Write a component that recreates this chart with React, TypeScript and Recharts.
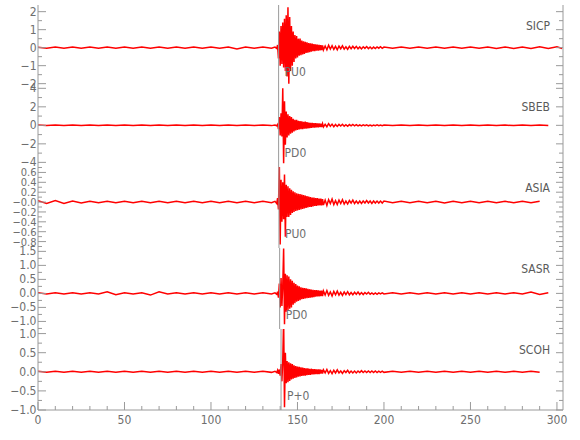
import { LineChart, Line, XAxis, YAxis, ReferenceLine } from "recharts";

// sample times (s): quiet part, P burst, coda, tail
const times = [
  0, 5, 10, 15, 20, 25, 30, 35, 40, 45, 50, 55, 60, 65, 70, 75, 80, 85, 90, 95, 100, 105, 110, 115, 120, 125, 130, 135, 137, 138,
  138.5, 139, 139.5, 140, 140.5, 141, 141.5, 142, 142.5, 143, 143.5, 144, 144.5, 145, 145.5, 146, 146.5, 147, 147.5, 148, 148.5, 149, 149.5, 150,
  150.5, 151, 151.5, 152, 152.5, 153, 153.5, 154, 154.5, 155, 155.5, 156, 156.5, 157, 157.5, 158, 158.5, 159, 159.5, 160, 160.5, 161, 161.5, 162, 162.5, 163, 163.5, 164, 164.5,
  165, 166, 167, 168, 169, 170, 171, 172, 173, 174, 175, 176, 177, 178, 179, 180, 181, 182, 183, 184, 185, 186, 187, 188, 189, 190, 191, 192, 193, 194, 195, 196, 197, 198, 199, 200,
  205, 210, 215, 220, 225, 230, 235, 240, 245, 250, 255, 260, 265, 270, 275, 280, 285, 290, 295, 300, 303,
];

const sicp = [
  0.03, -0.03, 0.03, -0.03, 0.03, -0.03, 0.03, -0.03, 0.03, -0.03, 0.03, -0.03, 0.03, -0.03, 0.03, -0.03, 0.03, -0.03, 0.03, -0.03, 0.03, -0.03, 0.03, -0.08, 0.03, -0.03, 0.03, -0.03, 0.03, -0.04,
  0.15, -0.6, 0.9, -1.0, 1.2, -0.9, 1.4, -1.1, 1.6, -1.3, 1.8, -1.6, 2.25, -2.0, 1.7, -1.3, 1.2, -1.0, 0.9, -0.8, 0.7, -0.6, 0.65, -0.55,
  0.5, -0.45, 0.5, -0.42, 0.4, -0.38, 0.36, -0.35, 0.32, -0.3, 0.3, -0.28, 0.26, -0.25, 0.24, -0.22, 0.22, -0.2, 0.2, -0.19, 0.18, -0.17, 0.17, -0.16, 0.15, -0.15, 0.14, -0.13, 0.13,
  -0.13, 0.09, -0.12, 0.14, -0.08, 0.11, -0.1, 0.07, -0.12, 0.09, -0.06, 0.1, -0.08, 0.05, -0.09, 0.07, -0.06, 0.08, -0.05, 0.07, -0.06, 0.04, -0.07, 0.05, -0.04, 0.06, -0.05, 0.04, -0.06, 0.03, -0.05, 0.04, -0.03, 0.05, -0.04, 0.03,
  -0.03, 0.03, -0.03, 0.03, -0.03, 0.03, -0.03, 0.03, -0.03, 0.03, -0.03, 0.04, -0.04, 0.04, -0.04, 0.04, -0.05, 0.05, -0.05, 0.05, -0.05,
];

const sbeb = [
  0.03, -0.03, 0.03, -0.03, 0.03, -0.03, 0.03, -0.03, 0.03, -0.03, 0.03, -0.03, 0.03, -0.03, 0.03, -0.03, 0.03, -0.03, 0.03, -0.03, 0.03, -0.03, 0.03, -0.03, 0.03, -0.03, 0.03, -0.03, 0.03, -0.05,
  0.1, -0.4, 0.9, -1.1, 1.3, -1.2, 4.0, -4.1, 2.6, -2.1, 1.5, -1.3, 1.2, -1.1, 1.0, -0.9, 0.9, -0.8, 0.7, -0.65, 0.6, -0.55, 0.6, -0.5,
  0.5, -0.45, 0.45, -0.4, 0.42, -0.4, 0.38, -0.36, 0.4, -0.35, 0.34, -0.32, 0.3, -0.3, 0.28, -0.27, 0.26, -0.25, 0.25, -0.24, 0.23, -0.22, 0.22, -0.21, 0.2, -0.2, 0.19, -0.18, 0.18,
  -0.17, 0.12, -0.15, 0.18, -0.1, 0.13, -0.14, 0.09, -0.12, 0.1, -0.07, 0.11, -0.09, 0.06, -0.1, 0.08, -0.06, 0.09, -0.05, 0.07, -0.06, 0.04, -0.07, 0.05, -0.04, 0.06, -0.05, 0.03, -0.05, 0.04, -0.03, 0.05, -0.04, 0.03, -0.04, 0.03,
  -0.03, 0.03, -0.03, 0.03, -0.03, 0.03, -0.03, 0.03, -0.03, 0.03, -0.03, 0.03, -0.03, 0.03, -0.03, 0.03, -0.03, 0.03, -0.03, null, null,
];

const asia = [
  0.03, -0.03, 0.03, -0.03, 0.02, -0.02, 0.015, -0.015, 0.015, -0.015, 0.015, -0.015, 0.015, -0.015, 0.015, -0.015, 0.015, -0.015, 0.015, -0.015, 0.015, -0.015, 0.015, -0.015, 0.015, -0.015, 0.015, -0.015, 0.015, -0.03,
  0.08, -0.15, 0.82, -0.86, 0.45, -0.4, 0.4, -0.35, 0.56, -0.7, 0.35, -0.3, 0.32, -0.3, 0.28, -0.26, 0.25, -0.22, 0.22, -0.2, 0.2, -0.18, 0.18, -0.17,
  0.17, -0.16, 0.16, -0.15, 0.15, -0.14, 0.14, -0.13, 0.13, -0.12, 0.12, -0.11, 0.11, -0.1, 0.1, -0.1, 0.09, -0.09, 0.09, -0.08, 0.08, -0.08, 0.08, -0.07, 0.07, -0.07, 0.07, -0.07, 0.06,
  -0.06, 0.04, -0.07, 0.05, -0.03, 0.06, -0.05, 0.03, -0.05, 0.04, -0.03, 0.05, -0.04, 0.02, -0.04, 0.03, -0.02, 0.04, -0.03, 0.02, -0.03, 0.02, -0.03, 0.02, -0.02, 0.03, -0.02, 0.02, -0.03, 0.02, -0.02, 0.02, -0.02, 0.02, -0.02, 0.02,
  -0.015, 0.015, -0.015, 0.015, -0.015, 0.015, -0.02, 0.015, -0.015, 0.015, -0.015, 0.015, -0.015, 0.015, -0.015, 0.015, -0.015, 0.015, null, null, null,
];

const sasr = [
  0.02, -0.02, 0.02, -0.02, 0.02, -0.02, 0.02, -0.02, 0.06, -0.05, 0.02, -0.02, 0.02, -0.06, 0.06, -0.02, 0.02, -0.02, 0.02, -0.02, 0.02, -0.02, 0.02, -0.02, 0.02, -0.02, 0.02, -0.02, 0.02, -0.03,
  0.06, -0.15, 0.35, -0.5, 0.55, -0.45, 0.3, 1.6, -1.1, 0.7, -0.65, 0.65, -0.6, 0.6, -0.55, 0.5, -0.5, 0.45, -0.4, 0.38, -0.35, 0.33, -0.3, 0.28,
  -0.27, 0.25, -0.24, 0.22, -0.21, 0.2, -0.2, 0.19, -0.18, 0.18, -0.17, 0.16, -0.16, 0.15, -0.15, 0.14, -0.14, 0.13, -0.13, 0.12, -0.12, 0.12, -0.11, 0.11, -0.11, 0.1, -0.1, 0.1, -0.1,
  0.09, -0.06, 0.1, -0.07, 0.05, -0.09, 0.07, -0.05, 0.08, -0.06, 0.04, -0.07, 0.05, -0.04, 0.06, -0.05, 0.03, -0.05, 0.04, -0.03, 0.05, -0.04, 0.03, -0.04, 0.03, -0.02, 0.04, -0.03, 0.02, -0.03, 0.02, -0.03, 0.02, -0.02, 0.02, -0.02,
  0.02, -0.02, 0.02, -0.02, 0.02, -0.02, 0.02, -0.02, 0.02, -0.02, 0.02, -0.02, 0.02, -0.02, 0.02, -0.02, 0.05, -0.04, 0.02, null, null,
];

const scoh = [
  0.015, -0.015, 0.015, -0.015, 0.015, -0.015, 0.015, -0.015, 0.015, -0.015, 0.015, -0.015, 0.015, -0.015, 0.015, -0.015, 0.015, -0.015, 0.015, -0.015, 0.015, -0.015, 0.015, -0.015, 0.015, -0.015, 0.015, -0.015, 0.015, -0.02,
  0.04, -0.05, 0.06, -0.1, 0.2, -0.25, 0.3, 1.37, -0.93, 0.5, -0.3, 0.28, -0.27, 0.25, -0.24, 0.22, -0.2, 0.2, -0.18, 0.17, -0.16, 0.15, -0.15, 0.14,
  -0.13, 0.13, -0.12, 0.12, -0.11, 0.11, -0.1, 0.1, -0.1, 0.09, -0.09, 0.09, -0.08, 0.08, -0.08, 0.08, -0.07, 0.07, -0.07, 0.07, -0.06, 0.06, -0.06, 0.06, -0.06, 0.06, -0.05, 0.05, -0.05,
  0.05, -0.03, 0.06, -0.04, 0.03, -0.05, 0.04, -0.03, 0.05, -0.03, 0.02, -0.04, 0.03, -0.02, 0.04, -0.03, 0.02, -0.03, 0.02, -0.03, 0.02, -0.02, 0.03, -0.02, 0.02, -0.02, 0.02, -0.02, 0.02, -0.02, 0.02, -0.02, 0.015, -0.015, 0.015, -0.015,
  0.015, -0.015, 0.015, -0.015, 0.015, -0.015, 0.015, -0.015, 0.015, -0.015, 0.015, -0.015, 0.015, -0.015, 0.015, -0.015, 0.015, -0.015, null, null, null,
];

const xTicks = [0, 10, 20, 30, 40, 50, 60, 70, 80, 90, 100, 110, 120, 130, 140, 150, 160, 170, 180, 190, 200, 210, 220, 230, 240, 250, 260, 270, 280, 290, 300];
const sicpTicks = [-2, -1.5, -1, -0.5, 0, 0.5, 1, 1.5, 2];
const sbebTicks = [-4, -3, -2, -1, 0, 1, 2, 3, 4];
const asiaTicks = [-0.9, -0.8, -0.7, -0.6, -0.5, -0.4, -0.3, -0.2, -0.1, 0, 0.1, 0.2, 0.3, 0.4, 0.5, 0.6, 0.7];
const sasrTicks = [-1.25, -1, -0.75, -0.5, -0.25, 0, 0.25, 0.5, 0.75, 1, 1.25, 1.5];
const scohTicks = [-1, -0.75, -0.5, -0.25, 0, 0.25, 0.5, 0.75, 1];

const AXIS = "#9a9a9a";
const TEXT = "#6e6e6e";
const FONT = "'Liberation Sans Narrow', 'DejaVu Sans Condensed', sans-serif";
const PANEL_H = 81;

interface Panel {
  name: string;
  pick: string;
  pickTime: number;
  domain: [number, number];
  ticks: number[];
  major: number;
  decimals: number;
  labelSize: number;
  zero?: string;
  values: (number | null)[];
}

const panels: Panel[] = [
  { name: "SICP", pick: "PU0", pickTime: 139.1, domain: [-2.13, 2.37], ticks: sicpTicks, major: 1, decimals: 0, labelSize: 12, values: sicp },
  { name: "SBEB", pick: "PD0", pickTime: 139.1, domain: [-4.5, 4.25], ticks: sbebTicks, major: 2, decimals: 0, labelSize: 12, values: sbeb },
  { name: "ASIA", pick: "PU0", pickTime: 139.3, domain: [-0.93, 0.71], ticks: asiaTicks, major: 0.2, decimals: 1, labelSize: 11, zero: "\u22120.0", values: asia },
  { name: "SASR", pick: "PD0", pickTime: 139.7, domain: [-1.27, 1.62], ticks: sasrTicks, major: 0.5, decimals: 1, labelSize: 12, values: sasr },
  { name: "SCOH", pick: "P+0", pickTime: 140.5, domain: [-1.0, 1.12], ticks: scohTicks, major: 0.5, decimals: 1, labelSize: 12, values: scoh },
];

function isMajor(v: number, step: number) {
  const r = v / step;
  return Math.abs(r - Math.round(r)) < 1e-6;
}

function fmt(v: number, p: Panel) {
  if (Math.abs(v) < 1e-9 && p.zero) return p.zero;
  const s = Math.abs(v).toFixed(p.decimals);
  return v < -1e-9 ? "\u2212" + s : s;
}

function LeftTick({ x, y, payload, panel }: any) {
  const major = isMajor(payload.value, panel.major);
  return (
    <g>
      <line x1={x} x2={x + (major ? 8 : 4)} y1={y} y2={y} stroke={AXIS} />
      {major && (
        <text x={x - 1.5} y={y + 4} textAnchor="end" fontFamily={FONT} fontSize={panel.labelSize} fill={TEXT}>
          {fmt(payload.value, panel)}
        </text>
      )}
    </g>
  );
}

function RightTick({ x, y, payload, panel }: any) {
  const major = isMajor(payload.value, panel.major);
  return <line x1={x} x2={x - (major ? 7 : 4)} y1={y} y2={y} stroke={AXIS} />;
}

function BottomTick({ x, y, payload, labels }: any) {
  const major = payload.value % 50 === 0;
  return (
    <g>
      <line x1={x} x2={x} y1={y} y2={y - (major ? 8 : 4)} stroke={AXIS} />
      {labels && major && (
        <text x={x} y={y + 14} textAnchor="middle" fontFamily={FONT} fontSize={12} fill={TEXT}>
          {payload.value}
        </text>
      )}
    </g>
  );
}

function TopTick({ x, y, payload }: any) {
  const major = payload.value % 50 === 0;
  return <line x1={x} x2={x} y1={y} y2={y + (major ? 8 : 4)} stroke={AXIS} />;
}

function PickLabel({ viewBox, text }: any) {
  const x = viewBox?.x ?? 0;
  const y = viewBox?.y ?? 0;
  return (
    <text x={x + 6} y={y + 70.5} fontFamily={FONT} fontSize={12} fill={TEXT}>
      {text}
    </text>
  );
}

function StationName({ viewBox, text }: any) {
  const x = viewBox?.x ?? 563;
  const y = viewBox?.y ?? 0;
  return (
    <text x={x - 13} y={y + 25} textAnchor="end" fontFamily={FONT} fontSize={12} fill="#5a5a5a">
      {text}
    </text>
  );
}

function Trace({ panel, index, last }: { panel: Panel; index: number; last: boolean }) {
  const data = times.map((t, i) => ({ t, v: panel.values[i] ?? null }));
  const bottomH = last ? 24 : 0;
  return (
    <div style={{ position: "absolute", left: 0, top: 5 + PANEL_H * index }}>
      <LineChart width={580} height={PANEL_H + bottomH} data={data} margin={{ top: 0, right: 0, bottom: 0, left: 0 }}>
        <XAxis
          xAxisId="b"
          dataKey="t"
          type="number"
          domain={[0, 303.5]}
          allowDataOverflow
          ticks={xTicks}
          interval={0}
          height={bottomH}
          tickSize={0}
          tickMargin={0}
          axisLine={{ stroke: AXIS }}
          tickLine={false}
          tick={<BottomTick labels={last} />}
        />
        <XAxis
          xAxisId="t"
          orientation="top"
          dataKey="t"
          type="number"
          domain={[0, 303.5]}
          allowDataOverflow
          ticks={xTicks}
          interval={0}
          height={0}
          tickSize={0}
          tickMargin={0}
          axisLine={{ stroke: AXIS }}
          tickLine={false}
          tick={<TopTick />}
        />
        <YAxis
          yAxisId="l"
          type="number"
          domain={panel.domain}
          allowDataOverflow
          ticks={panel.ticks}
          interval={0}
          width={38}
          tickSize={0}
          tickMargin={0}
          axisLine={{ stroke: AXIS }}
          tickLine={false}
          tick={<LeftTick panel={panel} />}
        />
        <YAxis
          yAxisId="r"
          orientation="right"
          type="number"
          domain={panel.domain}
          allowDataOverflow
          ticks={panel.ticks}
          interval={0}
          width={17}
          tickSize={0}
          tickMargin={0}
          axisLine={{ stroke: AXIS }}
          tickLine={false}
          tick={<RightTick panel={panel} />}
          label={<StationName text={panel.name} />}
        />
        <Line
          xAxisId="b"
          yAxisId="l"
          type="linear"
          dataKey="v"
          stroke="#ff0000"
          strokeWidth={1.5}
          dot={false}
          isAnimationActive={false}
        />
        <ReferenceLine
          xAxisId="b"
          yAxisId="l"
          x={panel.pickTime}
          stroke={AXIS}
          zIndex={1000}
          label={<PickLabel text={panel.pick} />}
        />
      </LineChart>
    </div>
  );
}

export default function App() {
  return (
    <div style={{ position: "absolute", left: 0, top: 0, width: 580, height: 440, background: "#fff" }}>
      <style>{".recharts-surface{overflow:visible}.recharts-wrapper g[clip-path]{clip-path:none}"}</style>
      {panels.map((p, i) => (
        <Trace key={p.name} panel={p} index={i} last={i === panels.length - 1} />
      ))}
    </div>
  );
}
